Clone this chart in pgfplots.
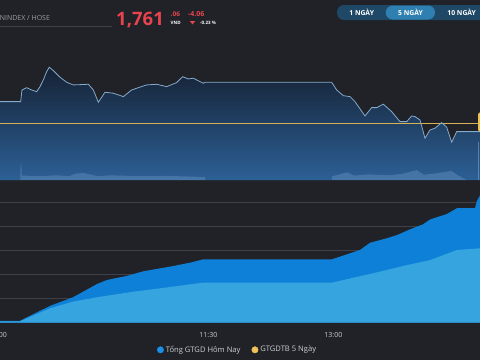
\documentclass[border=0pt]{standalone}
\usepackage{pgfplots}
\pgfplotsset{compat=1.18}
\usepackage{fontspec}
\setmainfont{Open Sans}
\definecolor{bgc}{RGB}{32,34,39}
\definecolor{fillTop}{RGB}{22,34,52}
\definecolor{fillBot}{RGB}{44,96,150}
\definecolor{linec}{RGB}{132,170,204}
\definecolor{refc}{RGB}{214,178,84}
\definecolor{tagc}{RGB}{240,192,80}
\definecolor{gridc}{RGB}{62,65,72}
\definecolor{darkb}{RGB}{15,128,216}
\definecolor{lightb}{RGB}{54,164,222}
\definecolor{redc}{RGB}{232,67,79}
\definecolor{grayt}{RGB}{155,158,163}
\definecolor{labc}{RGB}{205,207,211}
\definecolor{pillc}{RGB}{31,72,102}
\definecolor{pillsel}{RGB}{47,128,176}
\definecolor{legblue}{RGB}{26,143,232}
\definecolor{legyellow}{RGB}{243,193,90}
\definecolor{volc}{RGB}{120,160,205}

\pgfplotstableread{
m p
0 1776.86
14.9 1776.86
15.8 1783.0
19.2 1784.2
22.8 1783.0
26.4 1782.1
28.8 1784.75
31.2 1788.3
33.6 1792.65
35.5 1794.96
38.4 1793.2
43.2 1789.7
48 1787.07
52.8 1785.65
63.6 1786.0
67.2 1783.0
70.8 1776.54
75.6 1781.8
81.6 1781.3
88.8 1779.5
94.8 1783.0
98.4 1783.9
105.6 1785.65
112.8 1786.0
120 1784.75
127.2 1786.86
131.5 1790.0
135.6 1788.8
139.2 1789.2
146.4 1786.5
147.6 1787.07
238.8 1787.07
242.4 1783.0
247.2 1780.0
252 1779.5
255.6 1776.86
262.8 1769.33
267.6 1773.7
271.2 1773.7
276 1775.5
282 1771.6
288 1766.33
292.8 1766.33
296.4 1769.33
298.8 1768.96
302.4 1767.2
306 1757.6
309.6 1761.96
313.2 1762.86
318 1765.8
321.6 1763.4
325.2 1755.5
328.8 1761.06
345.6 1761.06
}\pricetab

\pgfplotstableread{
m v
0 0
14.6 0
14.8 11
15.4 11
15.6 3
30 2.6
40 3.2
50 2.6
54 4.2
60 4.8
66 3.6
70 2.6
80 3.2
100 2.6
120 2.8
140 2.2
147.6 2
147.8 0
239 0
239.2 2.5
250 5.2
255 3
265 3.8
280 3.2
290 4.2
300 6.8
305 3.6
315 4.6
325 6.2
330 3
336 0
}\voltab

\pgfplotstableread{
m v
0 0.08
14.4 0.08
36 0.7
52.6 1.06
69.8 1.61
77 1.78
91.4 1.95
103 2.14
124.6 2.36
136.8 2.5
146.2 2.64
239 2.64
259.2 3.03
266.4 3.33
278.6 3.52
285.8 3.65
295.2 3.89
304.6 4.1
309.6 4.3
321.8 4.53
329 4.77
342 4.77
343.4 5.08
345.6 5.3
}\todaytab

\pgfplotstableread{
m v
0 0.06
14.4 0.06
36 0.6
52.6 0.88
72 1.08
95.8 1.29
120.2 1.47
146.2 1.67
239 1.67
268.6 2.06
293 2.4
309.6 2.61
329 3.03
345.6 3.1
}\avgtab

\begin{document}
\begin{tikzpicture}
\fill[bgc] (0pt,0pt) rectangle (480pt,360pt);

% header
\draw[gridc, line width=0.5pt] (0pt,333.3pt) -- (112pt,333.3pt);
\node[anchor=base west, inner sep=0pt, text=grayt, font=\fontsize{7}{8}\selectfont] at (-4.5pt,340pt) {VNINDEX / HOSE};
\node[anchor=base west, inner sep=0pt, text=redc, font=\fontsize{18.5}{20}\selectfont\bfseries] at (116pt,335pt) {1,761};
\node[anchor=base west, inner sep=0pt, text=redc, font=\fontsize{6.5}{7}\selectfont\bfseries] at (170.5pt,343.8pt) {.06};
\node[anchor=base west, inner sep=0pt, text=white, font=\fontsize{4.5}{5}\selectfont\bfseries] at (170.5pt,335.6pt) {VND};
\node[anchor=base west, inner sep=0pt, text=redc, font=\fontsize{7}{8}\selectfont\bfseries] at (188pt,343.3pt) {-4.06};
\fill[redc] (189.8pt,339pt) -- (195.2pt,339pt) -- (192.5pt,335.6pt) -- cycle;
\node[anchor=base west, inner sep=0pt, text=white, font=\fontsize{4.5}{5}\selectfont\bfseries] at (200pt,335.6pt) {-0.23 \%};

% range buttons
\fill[pillc, rounded corners=7pt] (337pt,340pt) rectangle (495pt,355pt);
\fill[pillsel, rounded corners=7pt] (385.7pt,340.5pt) rectangle (435pt,354.5pt);
\node[text=white, font=\fontsize{6.8}{7}\selectfont\bfseries, inner sep=0pt] at (361.7pt,347.8pt) {1 NGÀY};
\node[text=white, font=\fontsize{6.8}{7}\selectfont\bfseries, inner sep=0pt] at (410.5pt,347.8pt) {5 NGÀY};
\node[text=white, font=\fontsize{6.8}{7}\selectfont\bfseries, inner sep=0pt] at (461.7pt,347.8pt) {10 NGÀY};

% top price chart
\begin{axis}[
  at={(0pt,180pt)}, anchor=south west,
  scale only axis, width=480pt, height=147pt,
  xmin=0, xmax=345.6, ymin=1735.6, ymax=1813,
  hide axis,
]
\addplot[draw=none, top color=fillTop, bottom color=fillBot]
  table[x=m, y=p] {\pricetab} -- (axis cs:345.6,1735.6) -- (axis cs:0,1735.6) -- cycle;
\addplot[refc, line width=1pt] coordinates {(0,1765.12) (345.6,1765.12)};
\addplot[linec, line width=0.8pt] table[x=m, y=p] {\pricetab};
\node[fill=tagc, rounded corners=1.5pt, minimum width=8pt, minimum height=19pt, inner sep=0pt, anchor=west] at (axis cs:344.1,1766.2) {};
\end{axis}

% volume overlay
\begin{axis}[
  at={(0pt,180pt)}, anchor=south west,
  scale only axis, width=480pt, height=147pt,
  xmin=0, xmax=345.6, ymin=0, ymax=100,
  hide axis,
]
\addplot[draw=none, fill=volc, fill opacity=0.35] table[x=m, y=v] {\voltab} \closedcycle;
\addplot[ycomb, volc, line width=0.8pt, opacity=0.6] coordinates {(344.6,26)};
\end{axis}

% bottom value chart
\begin{axis}[
  at={(0pt,37.3pt)}, anchor=south west,
  scale only axis, width=480pt, height=142.7pt,
  xmin=0, xmax=345.6, ymin=0, ymax=5.946,
  axis line style={draw=none},
  tick style={draw=none},
  major tick length=0pt,
  ytick={1,2,3,4,5}, yticklabels={},
  ymajorgrids, grid style={gridc, line width=0.7pt},
  xtick={0,150,240}, xticklabels={{9:00},{11:30},{13:00}},
  xticklabel style={text=labc, font=\fontsize{7}{8}\selectfont, yshift=-6pt},
  legend columns=2,
  legend style={at={(0.495,-0.19)}, anchor=center, draw=none, fill=none,
    text=labc, font=\fontsize{7.6}{9}\selectfont,
    /tikz/every even column/.append style={column sep=9pt}},
  legend image code/.code={\fill[#1] (0.1cm,0cm) circle (3.2pt);},
]
\addplot[draw=none, fill=darkb, forget plot] table[x=m, y=v] {\todaytab} \closedcycle;
\addplot[draw=none, fill=lightb, forget plot] table[x=m, y=v] {\avgtab} \closedcycle;
\addlegendimage{legblue}
\addlegendentry{Tổng GTGD Hôm Nay}
\addlegendimage{legyellow}
\addlegendentry{GTGDTB 5 Ngày}
\end{axis}

\pgfresetboundingbox
\path[use as bounding box] (0pt,0pt) rectangle (480pt,360pt);
\end{tikzpicture}
\end{document}
